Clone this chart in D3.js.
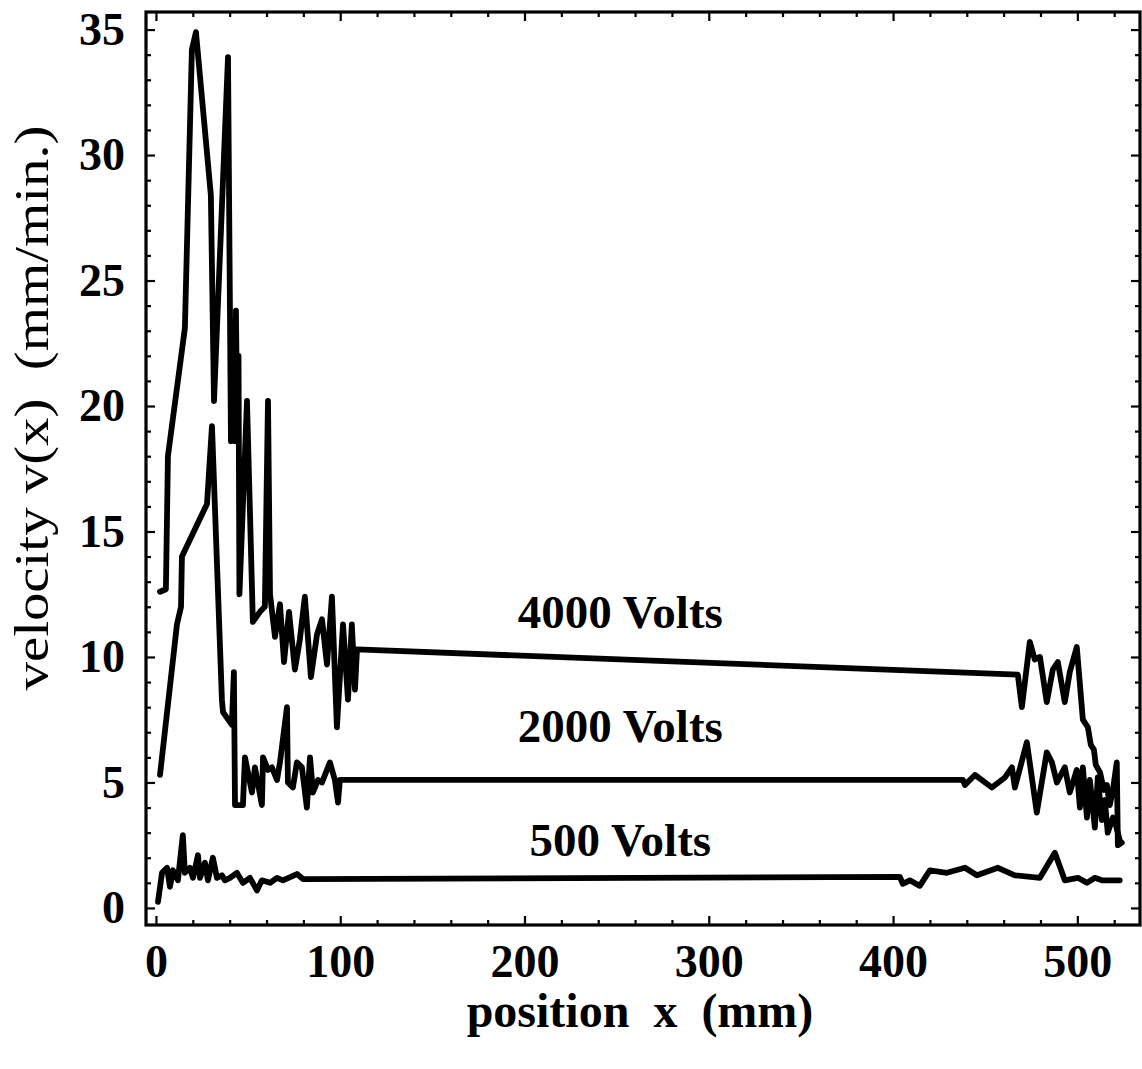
<!DOCTYPE html>
<html>
<head>
<meta charset="utf-8">
<script src="https://cdn.jsdelivr.net/npm/d3@7"></script>
<style>
  html, body { margin: 0; padding: 0; background: #fff; }
  svg { display: block; }
  text { font-family: "Liberation Serif", "DejaVu Serif", serif; fill: #000; }
</style>
</head>
<body>
<svg id="chart" width="1142" height="1069"></svg>
<script>
// Electrophoretic front velocity vs. position, three applied voltages.
// Each series is [position mm, velocity mm/min].

const series4000 = [
  [2.2,12.6],[5.4,12.7],[6.5,18.0],[15.7,23.1],[19.5,34.2],[21.7,34.9],[29.8,28.4],[31.5,20.2],
  [39.1,33.9],[40.7,18.6],[42.3,23.4],[42.9,18.6],[43.4,23.8],[44.2,18.7],[44.8,22.0],[45.3,12.5],
  [49.4,20.2],[52.6,11.4],[56.4,11.8],[59.1,12.0],[60.8,20.2],[61.9,12.5],[64.6,10.8],[67.3,12.1],
  [69.5,9.8],[72.2,11.8],[75.4,9.5],[78.1,10.7],[80.8,12.4],[84.1,9.2],[87.4,10.9],[90.1,11.5],
  [92.8,9.7],[95.5,12.4],[98.2,7.2],[101.5,11.3],[104.2,8.3],[106.3,11.3],[108.0,8.7],[109.1,10.3],
  [467.7,9.3],[469.9,8.0],[474.2,10.6],[476.9,9.9],[479.7,10.0],[483.4,8.2],[486.7,9.5],[489.4,9.8],
  [493.2,8.2],[495.9,9.4],[499.7,10.4],[503.0,7.5],[505.7,7.2],[507.3,6.5],[509.0,6.3],[510.0,5.7],
  [512.3,5.4],[514.4,4.7],[516.0,4.9],[517.6,4.1],[519.3,4.7],[521.4,5.8],[522.0,2.5],[524.1,2.6]
];

const series2000 = [
  [2.2,5.3],[11.4,11.3],[13.6,12.0],[14.1,14.0],[27.7,16.1],[30.4,19.2],[35.8,8.3],[36.4,7.8],
  [41.2,7.3],[42.3,9.4],[42.9,4.1],[47.2,4.1],[48.3,6.0],[52.1,4.6],[53.7,5.6],[57.5,4.1],
  [58.1,6.0],[60.8,5.5],[62.9,5.6],[65.7,5.1],[67.3,5.8],[71.1,8.0],[71.6,5.0],[74.3,4.8],
  [76.5,5.8],[79.2,5.6],[81.9,4.0],[83.6,6.0],[85.2,4.6],[87.9,5.1],[90.1,5.0],[94.4,5.8],
  [97.1,5.1],[98.8,4.2],[99.8,5.1],[437.9,5.1],[439.0,4.9],[444.4,5.3],[453.6,4.8],[460.7,5.2],
  [464.5,5.6],[466.1,4.8],[472.6,6.6],[478.0,3.8],[483.4,6.2],[486.2,5.8],[488.9,5.0],[493.2,5.6],
  [495.9,4.6],[499.7,5.5],[501.4,4.0],[503.0,5.6],[505.2,3.6],[506.8,5.1],[509.5,3.2],[511.1,5.2],
  [513.3,3.5],[514.9,4.3],[516.5,3.0],[519.3,3.6],[520.9,3.3],[523.0,2.7]
];

const series500 = [
  [1.1,0.24],[3.3,1.4],[6.0,1.6],[7.6,0.84],[9.2,1.5],[11.9,1.1],[14.6,2.9],[15.7,1.4],
  [18.4,1.6],[20.1,1.2],[22.8,2.1],[23.9,1.2],[26.6,1.8],[28.2,1.1],[30.9,2.0],[33.1,1.2],
  [35.8,1.3],[37.4,1.1],[40.2,1.2],[43.9,1.4],[47.2,1.0],[51.0,1.2],[54.8,0.7],[57.5,1.1],
  [61.9,1.0],[65.7,1.2],[68.9,1.1],[76.5,1.35],[79.8,1.15],[403.7,1.24],[405.3,0.96],[409.1,1.1],
  [414.5,0.88],[420.0,1.5],[429.2,1.4],[439.0,1.6],[445.5,1.3],[456.9,1.6],[466.1,1.3],[479.7,1.2],
  [487.8,2.2],[493.2,1.1],[500.3,1.2],[505.2,1.0],[509.5,1.2],[513.3,1.1],[523.0,1.1]
];

const seriesLabels = [
  { text: "4000 Volts", x: 252, y: 11.15 },
  { text: "2000 Volts", x: 252, y: 6.6 },
  { text: "500 Volts",  x: 252, y: 2.07 }
];

const xTicks = [0, 100, 200, 300, 400, 500];
const yTicks = [0, 5, 10, 15, 20, 25, 30, 35];
const xTitle = "position  x  (mm)";
const yTitle = "velocity v(x)  (mm/min.)";

const svg = d3.select("#chart");

const frameL = 146, frameR = 1140, frameT = 12, frameB = 925;

const x = d3.scaleLinear().domain([-5.4, 534]).range([frameL, frameR]);
const y = d3.scaleLinear().domain([-0.68, 35.7]).range([frameB, frameT]);

const xMinor = d3.range(20, 540, 20).filter(v => v % 100 !== 0);
const yMinor = d3.range(1, 36, 1).filter(v => v % 5 !== 0);

// Frame-style axes with inward ticks on all four sides
function styleAxis(g) {
  g.select(".domain").remove();
  g.selectAll(".tick line").attr("stroke", "#000").attr("stroke-width", 2.2);
}
function styleLabels(g) {
  g.selectAll("text")
    .attr("font-size", 46)
    .attr("font-weight", "bold")
    .attr("fill", "#000")
    .style("font-family", "'Liberation Serif', serif");
}

svg.append("g").attr("transform", `translate(0,${frameB})`)
  .call(d3.axisBottom(x).tickValues(xTicks).tickSize(-9).tickPadding(19).tickFormat(d3.format("d")))
  .call(styleAxis).call(styleLabels);
svg.append("g").attr("transform", `translate(0,${frameB})`)
  .call(d3.axisBottom(x).tickValues(xMinor).tickSize(-5).tickFormat(""))
  .call(styleAxis);

svg.append("g").attr("transform", `translate(0,${frameT})`)
  .call(d3.axisTop(x).tickValues(xTicks).tickSize(-9).tickFormat(""))
  .call(styleAxis);
svg.append("g").attr("transform", `translate(0,${frameT})`)
  .call(d3.axisTop(x).tickValues(xMinor).tickSize(-5).tickFormat(""))
  .call(styleAxis);

svg.append("g").attr("transform", `translate(${frameL},0)`)
  .call(d3.axisLeft(y).tickValues(yTicks).tickSize(-9).tickPadding(21).tickFormat(d3.format("d")))
  .call(styleAxis).call(styleLabels);
svg.append("g").attr("transform", `translate(${frameL},0)`)
  .call(d3.axisLeft(y).tickValues(yMinor).tickSize(-5).tickFormat(""))
  .call(styleAxis);

svg.append("g").attr("transform", `translate(${frameR},0)`)
  .call(d3.axisRight(y).tickValues(yTicks).tickSize(-9).tickFormat(""))
  .call(styleAxis);
svg.append("g").attr("transform", `translate(${frameR},0)`)
  .call(d3.axisRight(y).tickValues(yMinor).tickSize(-5).tickFormat(""))
  .call(styleAxis);

// frame
svg.append("rect")
  .attr("x", frameL).attr("y", frameT)
  .attr("width", frameR - frameL).attr("height", frameB - frameT)
  .attr("fill", "none").attr("stroke", "#000").attr("stroke-width", 3.2);

// data curves
const line = d3.line().x(d => x(d[0])).y(d => y(d[1]));
[series4000, series2000, series500].forEach(s => {
  svg.append("path")
    .datum(s)
    .attr("d", line)
    .attr("fill", "none")
    .attr("stroke", "#000")
    .attr("stroke-width", 5.8)
    .attr("stroke-linejoin", "round")
    .attr("stroke-linecap", "round");
});

// curve labels
svg.selectAll("text.series-label")
  .data(seriesLabels)
  .enter().append("text")
  .attr("class", "series-label")
  .attr("x", d => x(d.x))
  .attr("y", d => y(d.y))
  .attr("text-anchor", "middle")
  .attr("font-size", 47)
  .attr("font-weight", "bold")
  .text(d => d.text);

// axis titles
svg.append("text")
  .attr("x", 640).attr("y", 1027)
  .attr("text-anchor", "middle")
  .attr("font-size", 48)
  .attr("font-weight", "bold")
  .style("white-space", "pre")
  .text(xTitle);

svg.append("text")
  .attr("transform", "translate(48,408) rotate(-90)")
  .attr("text-anchor", "middle")
  .attr("font-size", 48)
  .attr("textLength", 565)
  .attr("lengthAdjust", "spacingAndGlyphs")
  .style("white-space", "pre")
  .text(yTitle);
</script>
</body>
</html>
